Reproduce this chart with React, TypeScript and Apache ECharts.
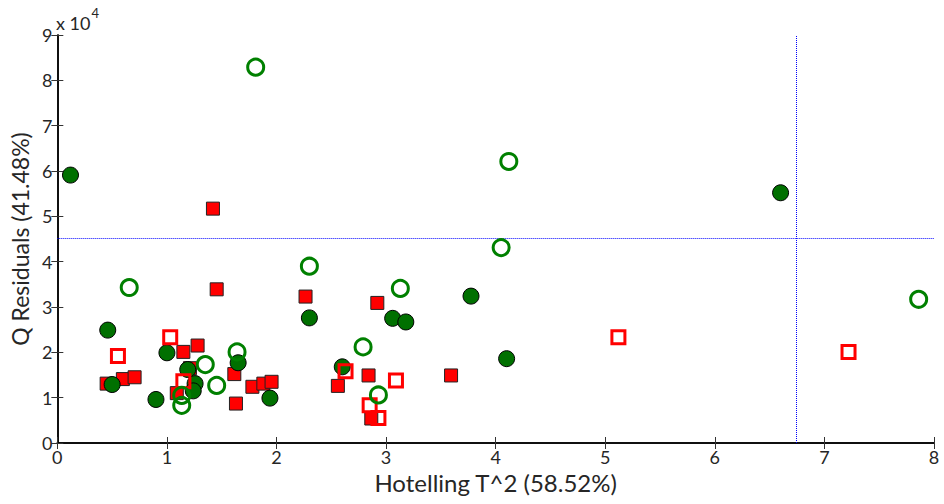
import React, { useEffect, useRef } from "react";
import * as echarts from "echarts";

// Hotelling T^2 (x) and Q residuals (y) for four sample groups
const filledCircles: [number, number][] = [
  [0.12, 59100], [0.46, 24900], [0.5, 12900], [0.9, 9600], [1.0, 19900],
  [1.19, 16200], [1.257, 13100], [1.24, 11500], [1.65, 17700], [1.94, 9900],
  [2.3, 27600], [2.6, 16800], [3.06, 27500], [3.18, 26700], [3.775, 32400],
  [4.1, 18600], [6.6, 55200],
];
const hollowCircles: [number, number][] = [
  [0.656, 34300], [1.135, 10500], [1.135, 8300], [1.35, 17300], [1.454, 12700],
  [1.64, 20100], [1.81, 82900], [2.3, 39000], [2.79, 21200], [2.93, 10600],
  [3.13, 34100], [4.05, 43100], [4.12, 62100], [7.86, 31700],
];
const filledSquares: [number, number][] = [
  [0.45, 13100], [0.598, 14100], [0.705, 14500], [1.09, 11000], [1.15, 20100],
  [1.21, 16500], [1.28, 21500], [1.42, 51700], [1.454, 33900], [1.615, 15200],
  [1.63, 8700], [1.78, 12400], [1.88, 13100], [1.955, 13500], [2.265, 32300],
  [2.56, 12600], [2.84, 14900], [2.865, 5400], [2.92, 30900], [3.593, 14900],
];
const hollowSquares: [number, number][] = [
  [0.553, 19200], [1.03, 23300], [1.15, 13600], [2.63, 15800], [2.85, 8300],
  [2.93, 5500], [3.09, 13800], [5.12, 23300], [7.22, 20100],
];
const t2Limit = 6.743;
const qLimit = 45100;
const xTicks = [0, 1, 2, 3, 4, 5, 6, 7, 8];
const yTicks = [0, 1, 2, 3, 4, 5, 6, 7, 8, 9];

const FONT = "Lato, 'Open Sans', sans-serif";

export default function App() {
  const ref = useRef<HTMLDivElement>(null);
  useEffect(() => {
    if (!ref.current) return;
    const chart = echarts.init(ref.current, undefined, { renderer: "svg" });
    const tickLabel = { color: "#262626", fontSize: 18, fontFamily: FONT };
    const axisLine = { show: true, lineStyle: { color: "#000", width: 1.5 } };
    const axisTick = { show: true, inside: true, length: 6, lineStyle: { color: "#333", width: 1 } };
    const xMax = xTicks[xTicks.length - 1];
    const yMax = yTicks[yTicks.length - 1] * 10000;
    chart.setOption({
      animation: false,
      grid: { left: 56, right: 10, top: 35, bottom: 61, containLabel: false },
      graphic: [
        {
          type: "text",
          left: 56,
          top: 6,
          style: {
            text: "{a|x 10}{b|4}",
            rich: {
              a: { fontSize: 18, fontFamily: FONT, fill: "#262626", padding: [8, 0, 0, 0] },
              b: { fontSize: 13, fontFamily: FONT, fill: "#262626", verticalAlign: "top", padding: [0, 0, 10, 1] },
            },
          },
        },
      ],
      xAxis: [
        {
          type: "value",
          min: 0,
          max: xMax,
          interval: 1,
          name: "Hotelling T^2 (58.52%)",
          nameLocation: "middle",
          nameGap: 27,
          nameTextStyle: { fontSize: 24, color: "#262626", fontFamily: FONT },
          axisLine,
          axisTick,
          axisLabel: { ...tickLabel, margin: 5 },
          splitLine: { show: false },
        },
        {
          type: "value",
          position: "top",
          min: 0,
          max: xMax,
          interval: 1,
          axisLine,
          axisTick,
          axisLabel: { show: false },
          splitLine: { show: false },
        },
      ],
      yAxis: [
        {
          type: "value",
          min: 0,
          max: yMax,
          interval: 10000,
          name: "Q Residuals (41.48%)",
          nameLocation: "middle",
          nameGap: 22,
          nameTextStyle: { fontSize: 23, color: "#262626", fontFamily: FONT },
          axisLine,
          axisTick,
          axisLabel: { ...tickLabel, margin: 5, formatter: (v: number) => String(v / 10000) },
          splitLine: { show: false },
        },
        {
          type: "value",
          position: "right",
          min: 0,
          max: yMax,
          interval: 10000,
          axisLine,
          axisTick,
          axisLabel: { show: false },
          splitLine: { show: false },
        },
      ],
      series: [
        {
          type: "scatter",
          data: filledSquares,
          symbol: "rect",
          symbolSize: 13,
          itemStyle: { color: "#ff0000", borderColor: "#222", borderWidth: 1, opacity: 1 },
          emphasis: { disabled: true },
          z: 2,
          markLine: {
            silent: true,
            symbol: "none",
            label: { show: false },
            lineStyle: { color: "#0000ff", type: "dotted", width: 1 },
            data: [{ xAxis: t2Limit }, { yAxis: qLimit }],
          },
        },
        {
          type: "scatter",
          data: filledCircles,
          symbol: "circle",
          symbolSize: 16,
          itemStyle: { color: "#007000", borderColor: "#000", borderWidth: 1, opacity: 1 },
          emphasis: { disabled: true },
          z: 3,
        },
        {
          type: "scatter",
          data: hollowSquares,
          symbol: "rect",
          symbolSize: 13,
          itemStyle: { color: "rgba(255,255,255,0)", borderColor: "#ff0000", borderWidth: 3, opacity: 1 },
          emphasis: { disabled: true },
          z: 4,
        },
        {
          type: "scatter",
          data: hollowCircles,
          symbol: "circle",
          symbolSize: 16,
          itemStyle: { color: "rgba(255,255,255,0)", borderColor: "#008000", borderWidth: 3, opacity: 1 },
          emphasis: { disabled: true },
          z: 5,
        },
      ],
    });
    return () => chart.dispose();
  }, []);
  return <div ref={ref} style={{ width: 944, height: 504, position: "absolute", left: 0, top: 0, background: "#fff" }} />;
}
